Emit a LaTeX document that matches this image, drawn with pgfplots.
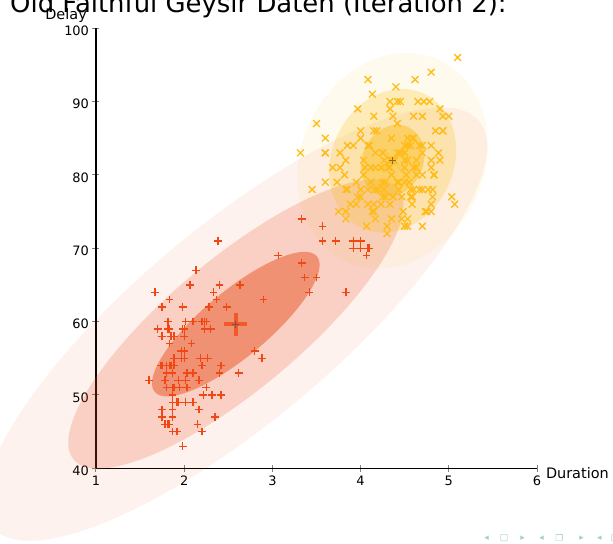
\documentclass[border=0pt]{standalone}
\usepackage{fontspec}
\setmainfont{DejaVu Sans}
\usepackage{pgfplots}
\usepackage{pgfplotstable}
\pgfplotsset{compat=1.18}
\definecolor{redc}{RGB}{230,69,18}
\definecolor{redm}{RGB}{240,72,20}
\definecolor{yelc}{RGB}{250,190,20}
\definecolor{yelm}{RGB}{255,188,25}
\definecolor{navc}{RGB}{165,208,192}
\tikzset{nav/.style={text=navc, font=\fontsize{9}{10}\selectfont, inner sep=0pt, anchor=center}}

\pgfplotstableread{
x y
1.800 54
3.333 74
2.283 62
2.883 55
1.950 51
1.833 54
1.750 47
2.167 52
1.750 62
1.600 52
1.800 51
1.750 47
3.067 69
1.967 55
3.367 66
2.017 52
1.867 48
1.833 59
1.883 58
1.750 58
3.833 64
2.100 53
2.000 59
1.833 54
1.733 54
3.717 71
1.667 64
2.233 59
1.750 48
1.817 60
2.067 65
1.967 56
4.000 71
1.983 62
2.017 60
4.100 70
2.633 65
2.167 48
2.200 60
1.867 50
1.833 63
1.867 51
2.483 62
2.100 49
1.867 47
1.783 52
2.300 59
1.700 59
2.317 50
1.817 59
2.617 53
4.067 69
1.967 56
1.917 45
2.267 55
1.867 45
2.800 56
1.833 46
1.883 51
2.033 53
2.233 60
1.983 59
2.017 49
1.800 53
2.400 65
3.567 71
4.000 70
1.800 53
2.200 45
2.000 58
3.500 66
2.367 63
1.933 52
1.917 49
2.083 57
3.333 68
2.417 50
1.883 55
2.033 51
1.833 46
2.183 55
1.833 57
2.250 51
2.100 60
1.867 53
1.783 46
1.933 49
2.383 71
1.867 49
3.417 64
2.400 53
2.000 55
1.867 50
1.750 54
3.917 70
4.083 70
2.417 54
2.217 50
1.883 54
1.850 54
2.333 64
2.350 47
2.900 63
2.083 57
2.133 67
2.200 54
3.567 73
3.917 71
2.000 56
1.850 58
1.983 43
2.250 60
2.150 46
1.817 46
}\redpts

\pgfplotstableread{
x y
3.600 79
4.533 85
4.700 88
3.600 85
4.350 85
3.917 84
4.200 78
4.700 83
4.800 84
4.250 79
3.450 78
4.533 74
3.600 83
4.083 76
3.850 78
4.433 79
4.300 73
4.467 77
4.033 80
3.833 74
4.833 80
4.783 90
4.350 80
4.567 84
4.533 73
3.317 83
4.633 82
4.800 75
4.716 90
4.833 80
4.883 83
4.567 77
4.317 81
4.500 84
4.800 82
4.400 92
4.167 78
4.700 78
4.700 73
4.033 82
4.500 79
5.067 76
4.567 78
3.883 76
3.600 83
4.133 75
4.333 82
4.067 73
4.933 88
3.950 76
4.517 80
4.000 86
4.333 90
4.817 78
4.300 72
4.667 84
3.750 75
4.900 82
4.367 88
4.500 83
4.050 81
4.700 84
4.850 86
3.683 81
4.733 75
4.900 89
4.417 79
4.633 81
4.600 85
4.417 87
4.250 77
4.600 88
3.767 81
4.500 82
4.650 90
4.167 83
4.333 89
4.383 82
4.933 86
3.733 79
4.233 81
4.533 82
4.817 77
4.333 76
4.633 80
5.100 96
5.033 77
4.000 77
4.600 81
4.500 81
4.083 93
3.967 89
4.150 86
3.833 78
4.583 76
5.000 88
4.617 93
4.583 77
4.167 81
4.333 81
4.500 73
4.000 85
4.167 74
4.583 77
4.250 83
3.767 83
4.433 78
4.083 84
4.417 83
4.800 81
4.800 76
4.100 84
3.966 77
4.233 81
3.500 87
4.366 77
4.667 78
4.350 82
4.133 91
4.600 78
4.367 77
3.850 84
4.500 83
4.700 80
3.833 75
4.233 76
4.800 94
4.150 76
4.267 82
4.483 75
4.000 78
4.117 79
4.083 78
4.267 78
4.550 79
4.183 86
4.450 90
4.283 77
3.950 79
4.150 75
4.933 86
4.583 85
3.833 82
4.367 82
4.350 74
4.450 83
4.500 73
4.150 88
3.817 80
4.450 83
4.283 79
4.767 78
4.533 84
4.250 83
4.750 75
4.117 81
4.417 90
4.467 74
}\yelpts

\begin{document}
\begin{tikzpicture}
\begin{axis}[
  x=88.2bp, y=7.3333bp,
  xmin=1, xmax=6, ymin=40, ymax=100,
  axis lines=left,
  axis line style={-, line width=1.4bp, black},
  clip=false,
  xtick={1,2,3,4,5,6}, ytick={40,50,60,70,80,90,100},
  tick align=center,
  major tick length=7bp,
  tick style={gray, line width=1bp},
  tick label style={font=\fontsize{13}{15}\selectfont},
  yticklabel style={yshift=-2.5bp},
  xticklabel style={yshift=-1bp},
  /pgf/number format/assume math mode=true,
]
% red Gaussian (3, 2, 1 sigma)
\addplot[draw=none, fill=redc, fill opacity=0.07, domain=0:360, samples=121]
  ({2.585+2.85*cos(x)}, {59.65+29.55*(0.82*cos(x)+0.5724*sin(x))});
\addplot[draw=none, fill=redc, fill opacity=0.20, domain=0:360, samples=121]
  ({2.585+1.9*cos(x)}, {59.65+19.7*(0.82*cos(x)+0.5724*sin(x))});
\addplot[draw=none, fill=redc, fill opacity=0.45, domain=0:360, samples=121]
  ({2.585+0.95*cos(x)}, {59.65+9.85*(0.82*cos(x)+0.5724*sin(x))});
% yellow Gaussian (3, 2, 1 sigma)
\addplot[draw=none, fill=yelc, fill opacity=0.07, domain=0:360, samples=121]
  ({4.363+1.08*cos(x)}, {81.93+14.7*(0.15*cos(x)+0.9887*sin(x))});
\addplot[draw=none, fill=yelc, fill opacity=0.25, domain=0:360, samples=121]
  ({4.363+0.72*cos(x)}, {81.93+9.8*(0.15*cos(x)+0.9887*sin(x))});
\addplot[draw=none, fill=yelc, fill opacity=0.45, domain=0:360, samples=121]
  ({4.363+0.36*cos(x)}, {81.93+4.9*(0.15*cos(x)+0.9887*sin(x))});
% data points
\addplot[only marks, mark=+, mark size=3.9bp, mark options={draw=redm, line width=1.35bp}] table {\redpts};
\addplot[only marks, mark=x, mark size=4.8bp, mark options={draw=yelm, line width=1.35bp}] table {\yelpts};
% means
\addplot[only marks, mark=+, mark size=11.5bp, mark options={draw=redm, line width=4.5bp, opacity=0.75}] coordinates {(2.585,59.65)};
\addplot[only marks, mark=x, mark size=16bp, mark options={draw=yelm, line width=4.5bp, opacity=0.22}] coordinates {(4.363,81.93)};
\addplot[only marks, mark=+, mark size=3.5bp, mark options={draw=black!70, line width=0.8bp, opacity=0.7}] coordinates {(2.585,59.65) (4.363,81.93)};
% texts
\node[anchor=base west, font=\fontsize{26}{30}\selectfont, inner sep=0pt] at (axis cs:0.025,102.2) {Old Faithful Geysir Daten (Iteration 2):};
\node[anchor=base east, font=\fontsize{14.5}{17}\selectfont, inner sep=0pt] at (axis cs:0.898,101.16) {Delay};
\node[anchor=base west, font=\fontsize{14.5}{17}\selectfont, inner sep=0pt] at (axis cs:6.10,38.64) {Duration};
% navigation symbols
\node[nav] at (axis cs:5.430,30.45) {◂};
\node[nav] at (axis cs:5.626,30.45) {□};
\node[nav] at (axis cs:5.838,30.45) {▸};
\node[nav] at (axis cs:6.053,30.45) {◂};
\node[nav] at (axis cs:6.253,30.45) {❐};
\node[nav] at (axis cs:6.507,30.45) {▸};
\node[nav] at (axis cs:6.706,30.45) {◂};
\node[nav] at (axis cs:6.884,30.45) {□};
\coordinate (bbl) at (axis cs:-0.0884,29.768);
\coordinate (btr) at (axis cs:6.8617,103.847);
\end{axis}
\pgfresetboundingbox
\path[use as bounding box] (bbl) rectangle (btr);
\end{tikzpicture}
\end{document}
